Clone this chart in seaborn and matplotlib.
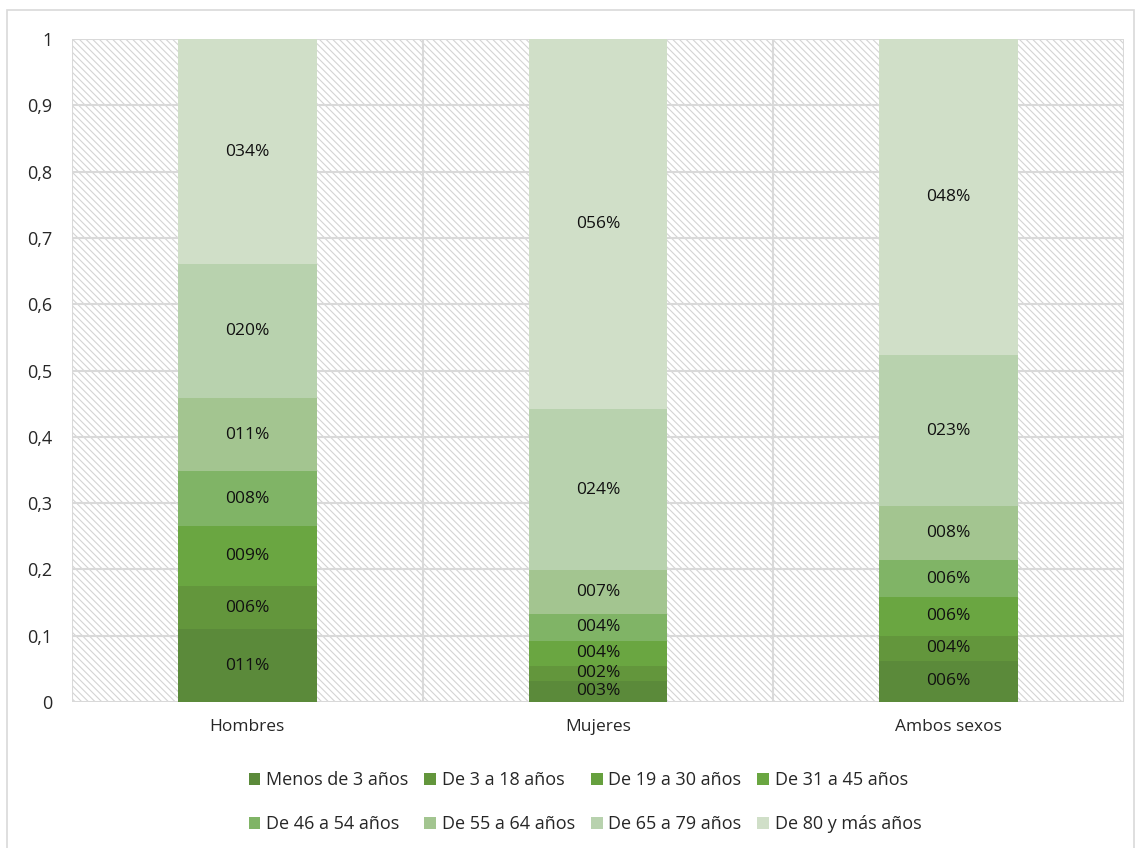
import numpy as np
import pandas as pd
import matplotlib
matplotlib.use("Agg")
import matplotlib.pyplot as plt
from matplotlib.patches import Rectangle
import seaborn as sns

categories = ["Hombres", "Mujeres", "Ambos sexos"]
series_names = ["Menos de 3 años", "De 3 a 18 años", "De 19 a 30 años", "De 31 a 45 años",
                "De 46 a 54 años", "De 55 a 64 años", "De 65 a 79 años", "De 80 y más años"]
menos3 = [0.110, 0.032, 0.062]
de3a18 = [0.065, 0.023, 0.038]
de19a30 = [0.0, 0.0, 0.0]
de31a45 = [0.090, 0.037, 0.058]
de46a54 = [0.083, 0.041, 0.056]
de55a64 = [0.110, 0.066, 0.081]
de65a79 = [0.202, 0.243, 0.229]
de80 = [0.340, 0.558, 0.476]
yticks = [0, 0.1, 0.2, 0.3, 0.4, 0.5, 0.6, 0.7, 0.8, 0.9, 1.0]
ytick_labels = ["0", "0,1", "0,2", "0,3", "0,4", "0,5", "0,6", "0,7", "0,8", "0,9", "1"]

values = [menos3, de3a18, de19a30, de31a45, de46a54, de55a64, de65a79, de80]
colors = ["#5b8a3a", "#63963c", "#66a03e", "#6aa641", "#80b466", "#a3c590", "#b8d2ae", "#d0dfc8"]

sns.set_style("white")
plt.rcParams['font.family'] = ['Open Sans', 'DejaVu Sans']
plt.rcParams['hatch.linewidth'] = 0.8
plt.rcParams['hatch.color'] = '#d4d4d4'

fig = plt.figure(figsize=(11.41, 8.48), dpi=100)
fig.patches.append(Rectangle((7/1141, -0.01), 1127/1141, 1 - 10/848 + 0.01, transform=fig.transFigure,
                             fill=False, edgecolor="#d9d9d9", linewidth=1.2))
ax = fig.add_axes([72/1141, 1 - 702/848, (1124-72)/1141, (702-39)/848])

# hatched background
ax.add_patch(Rectangle((-0.5, 0), 3, 1, facecolor="white", edgecolor="#d4d4d4", hatch="\\\\\\\\\\",
                       linewidth=0, zorder=0))

cum = np.cumsum(np.array(values), axis=0)
for i in range(len(series_names) - 1, -1, -1):
    df = pd.DataFrame({"cat": categories, "val": cum[i]})
    sns.barplot(data=df, x="cat", y="val", color=colors[i], width=0.396, ax=ax,
                saturation=1, zorder=3, edgecolor="none", linewidth=0)

for i in range(len(series_names)):
    for j, c in enumerate(categories):
        v = values[i][j]
        if v <= 0:
            continue
        mid = cum[i][j] - v / 2
        ax.text(j, mid, f"{int(round(v*100)):03d}%", ha="center", va="center", fontsize=12.5,
                color="#111111", zorder=5)

ax.set_xlim(-0.5, 2.5)
ax.set_ylim(0, 1)
ax.set_yticks(yticks)
ax.set_yticklabels(ytick_labels, fontsize=13)
ax.set_xlabel("")
ax.set_ylabel("")
ax.tick_params(axis="x", labelsize=12.5, length=0, pad=12)
ax.tick_params(axis="y", length=0, pad=14)
for s in ax.spines.values():
    s.set_visible(False)
for y in yticks:
    ax.axhline(y, color="#d9d9d9", linewidth=1.5, zorder=1)
for x in [-0.5, 0.5, 1.5, 2.5]:
    ax.axvline(x, color="#d9d9d9", linewidth=1.5, zorder=1)

# legend in row-major order (matplotlib fills columns first)
ncol = 4
order = [0, 4, 1, 5, 2, 6, 3, 7]
handles = [Rectangle((0, 0), 1, 1, facecolor=colors[k], edgecolor="none") for k in order]
labels = [series_names[k] for k in order]
fig.legend(handles, labels, loc="center", bbox_to_anchor=(585/1141, 1 - 802/848), ncol=ncol,
           frameon=False, fontsize=13, handlelength=0.65, handleheight=0.65, handletextpad=0.3,
           columnspacing=0.9, labelspacing=1.45)

fig.savefig("out.png", dpi=100)
